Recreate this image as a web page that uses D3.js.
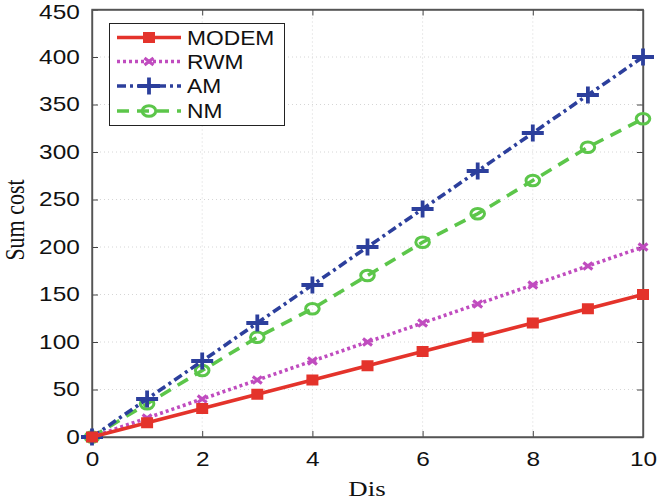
<!DOCTYPE html>
<html>
<head>
<meta charset="utf-8">
<script src="https://cdn.jsdelivr.net/npm/d3@7"></script>
<style>
  body { margin: 0; background: #fff; }
  .tick text { font-family: "Liberation Sans", Arial, sans-serif; font-size: 20px; fill: #111; }
  .axis-title { font-family: "Liberation Serif", "Times New Roman", serif; font-size: 22px; fill: #111; }
  .legend text { font-family: "Liberation Sans", Arial, sans-serif; font-size: 20px; fill: #111; }
</style>
</head>
<body>
<svg id="chart" width="660" height="502"></svg>
<script>
var xValues = [0, 1, 2, 3, 4, 5, 6, 7, 8, 9, 10];
var modem = [0, 15, 30, 45, 60, 75, 90, 105, 120, 135, 150];
var rwm = [0, 20, 40, 60, 80, 100, 120, 140, 160, 180, 200];
var am = [0, 40, 80, 120, 160, 200, 240, 280, 320, 360, 400];
var nm = [0, 35, 70, 105, 135, 170, 205, 235, 270, 305, 335];
var xTicks = [0, 2, 4, 6, 8, 10];
var yTicks = [0, 50, 100, 150, 200, 250, 300, 350, 400, 450];

var series = [
  {name: "MODEM", values: modem, color: "#e4332b", dash: null, marker: "square"},
  {name: "RWM", values: rwm, color: "#c04cbf", dash: "3,3", marker: "x"},
  {name: "AM", values: am, color: "#2c3f9c", dash: "9,4,3,4", marker: "plus"},
  {name: "NM", values: nm, color: "#5cc64a", dash: "12,8", marker: "circle"}
];

var svg = d3.select("#chart");
var plotLeft = 92, plotRight = 643, plotTop = 9.5, plotBottom = 437;
var stretch = 1.22; // the original figure is stretched horizontally

var x = d3.scaleLinear().domain([0, 10]).range([plotLeft, plotRight]);
var y = d3.scaleLinear().domain([0, 450]).range([plotBottom, plotTop]);

// grid
var grid = svg.append("g");
grid.selectAll(".gx").data(xTicks.slice(1, -1)).enter().append("line")
  .attr("x1", d => x(d)).attr("x2", d => x(d))
  .attr("y1", plotTop).attr("y2", plotBottom)
  .attr("stroke", "#d6d6d6").attr("stroke-width", 1).attr("stroke-dasharray", "1,3");
grid.selectAll(".gy").data(yTicks.slice(1, -1)).enter().append("line")
  .attr("x1", plotLeft).attr("x2", plotRight)
  .attr("y1", d => y(d)).attr("y2", d => y(d))
  .attr("stroke", "#d6d6d6").attr("stroke-width", 1).attr("stroke-dasharray", "1,3");

// axes
var xAxis = svg.append("g").attr("transform", "translate(0," + plotBottom + ")")
  .call(d3.axisBottom(x).tickValues(xTicks).tickSizeInner(-6).tickSizeOuter(0).tickPadding(15));
var xAxisTop = svg.append("g").attr("transform", "translate(0," + plotTop + ")")
  .call(d3.axisTop(x).tickValues(xTicks).tickSizeInner(-6).tickSizeOuter(0).tickFormat(""));
var yAxis = svg.append("g").attr("transform", "translate(" + plotLeft + ",0)")
  .call(d3.axisLeft(y).tickValues(yTicks).tickSizeInner(-6).tickSizeOuter(0).tickPadding(10));
var yAxisRight = svg.append("g").attr("transform", "translate(" + plotRight + ",0)")
  .call(d3.axisRight(y).tickValues(yTicks).tickSizeInner(-6).tickSizeOuter(0).tickFormat(""));
[xAxis, xAxisTop, yAxis, yAxisRight].forEach(function(a) {
  a.select(".domain").attr("stroke", "#555").attr("stroke-width", 1.4);
  a.selectAll(".tick line").attr("stroke", "#444");
});
xAxis.selectAll(".tick text").attr("transform", "scale(" + stretch + ",1)");
yAxis.selectAll(".tick text").attr("transform", (d) => d === 450
  ? "translate(0,3) scale(" + stretch + ",1)" : "scale(" + stretch + ",1)");

// plot border
svg.append("rect").attr("x", plotLeft).attr("y", plotTop)
  .attr("width", plotRight - plotLeft).attr("height", plotBottom - plotTop)
  .attr("fill", "none").attr("stroke", "#555").attr("stroke-width", 1.4);

// markers
function drawMarker(g, type, cx, cy, color) {
  if (type === "square") {
    g.append("rect").attr("x", cx - 6).attr("y", cy - 5.5).attr("width", 12).attr("height", 11)
      .attr("fill", color);
  } else if (type === "x") {
    g.append("path").attr("d", "M" + (cx - 4.5) + "," + (cy - 3.5) + "L" + (cx + 4.5) + "," + (cy + 3.5) +
      "M" + (cx - 4.5) + "," + (cy + 3.5) + "L" + (cx + 4.5) + "," + (cy - 3.5))
      .attr("stroke", color).attr("stroke-width", 3.2).attr("fill", "none");
  } else if (type === "plus") {
    g.append("path").attr("d", "M" + (cx - 11) + "," + cy + "L" + (cx + 11) + "," + cy +
      "M" + cx + "," + (cy - 8.5) + "L" + cx + "," + (cy + 8.5))
      .attr("stroke", color).attr("stroke-width", 3.8).attr("fill", "none");
  } else if (type === "circle") {
    g.append("ellipse").attr("cx", cx).attr("cy", cy).attr("rx", 6.8).attr("ry", 5.3)
      .attr("stroke", color).attr("stroke-width", 3).attr("fill", "none");
  }
}

var line = d3.line().x((d, i) => x(xValues[i])).y(d => y(d));

series.slice().reverse().forEach(function(s) {
  var g = svg.append("g");
  g.append("path").datum(s.values).attr("d", line)
    .attr("fill", "none").attr("stroke", s.color).attr("stroke-width", 3.6)
    .attr("stroke-dasharray", s.dash);
  s.values.forEach(function(v, i) {
    drawMarker(g, s.marker, x(xValues[i]), y(v), s.color);
  });
});

// legend
var legend = svg.append("g").attr("class", "legend");
legend.append("rect").attr("x", 109.5).attr("y", 23.5).attr("width", 175).attr("height", 102)
  .attr("fill", "#fff").attr("stroke", "#222").attr("stroke-width", 1);
var rowY = [37.5, 61.5, 86, 111];
series.forEach(function(s, i) {
  var ly = rowY[i];
  legend.append("line").attr("x1", 117).attr("x2", 181).attr("y1", ly).attr("y2", ly)
    .attr("stroke", s.color).attr("stroke-width", 3.6).attr("stroke-dasharray", s.dash);
  drawMarker(legend, s.marker, 149, ly, s.color);
  legend.append("text").attr("transform", "translate(187," + (ly + 7) + ") scale(1.14,1)").text(s.name);
});

// axis titles
svg.append("text").attr("class", "axis-title")
  .attr("transform", "translate(367,496) scale(1.22,1)")
  .attr("text-anchor", "middle").text("Dis");
svg.append("text").attr("class", "axis-title")
  .attr("transform", "translate(24,220) scale(1.2,1) rotate(-90)")
  .attr("text-anchor", "middle").text("Sum cost");
</script>
</body>
</html>
